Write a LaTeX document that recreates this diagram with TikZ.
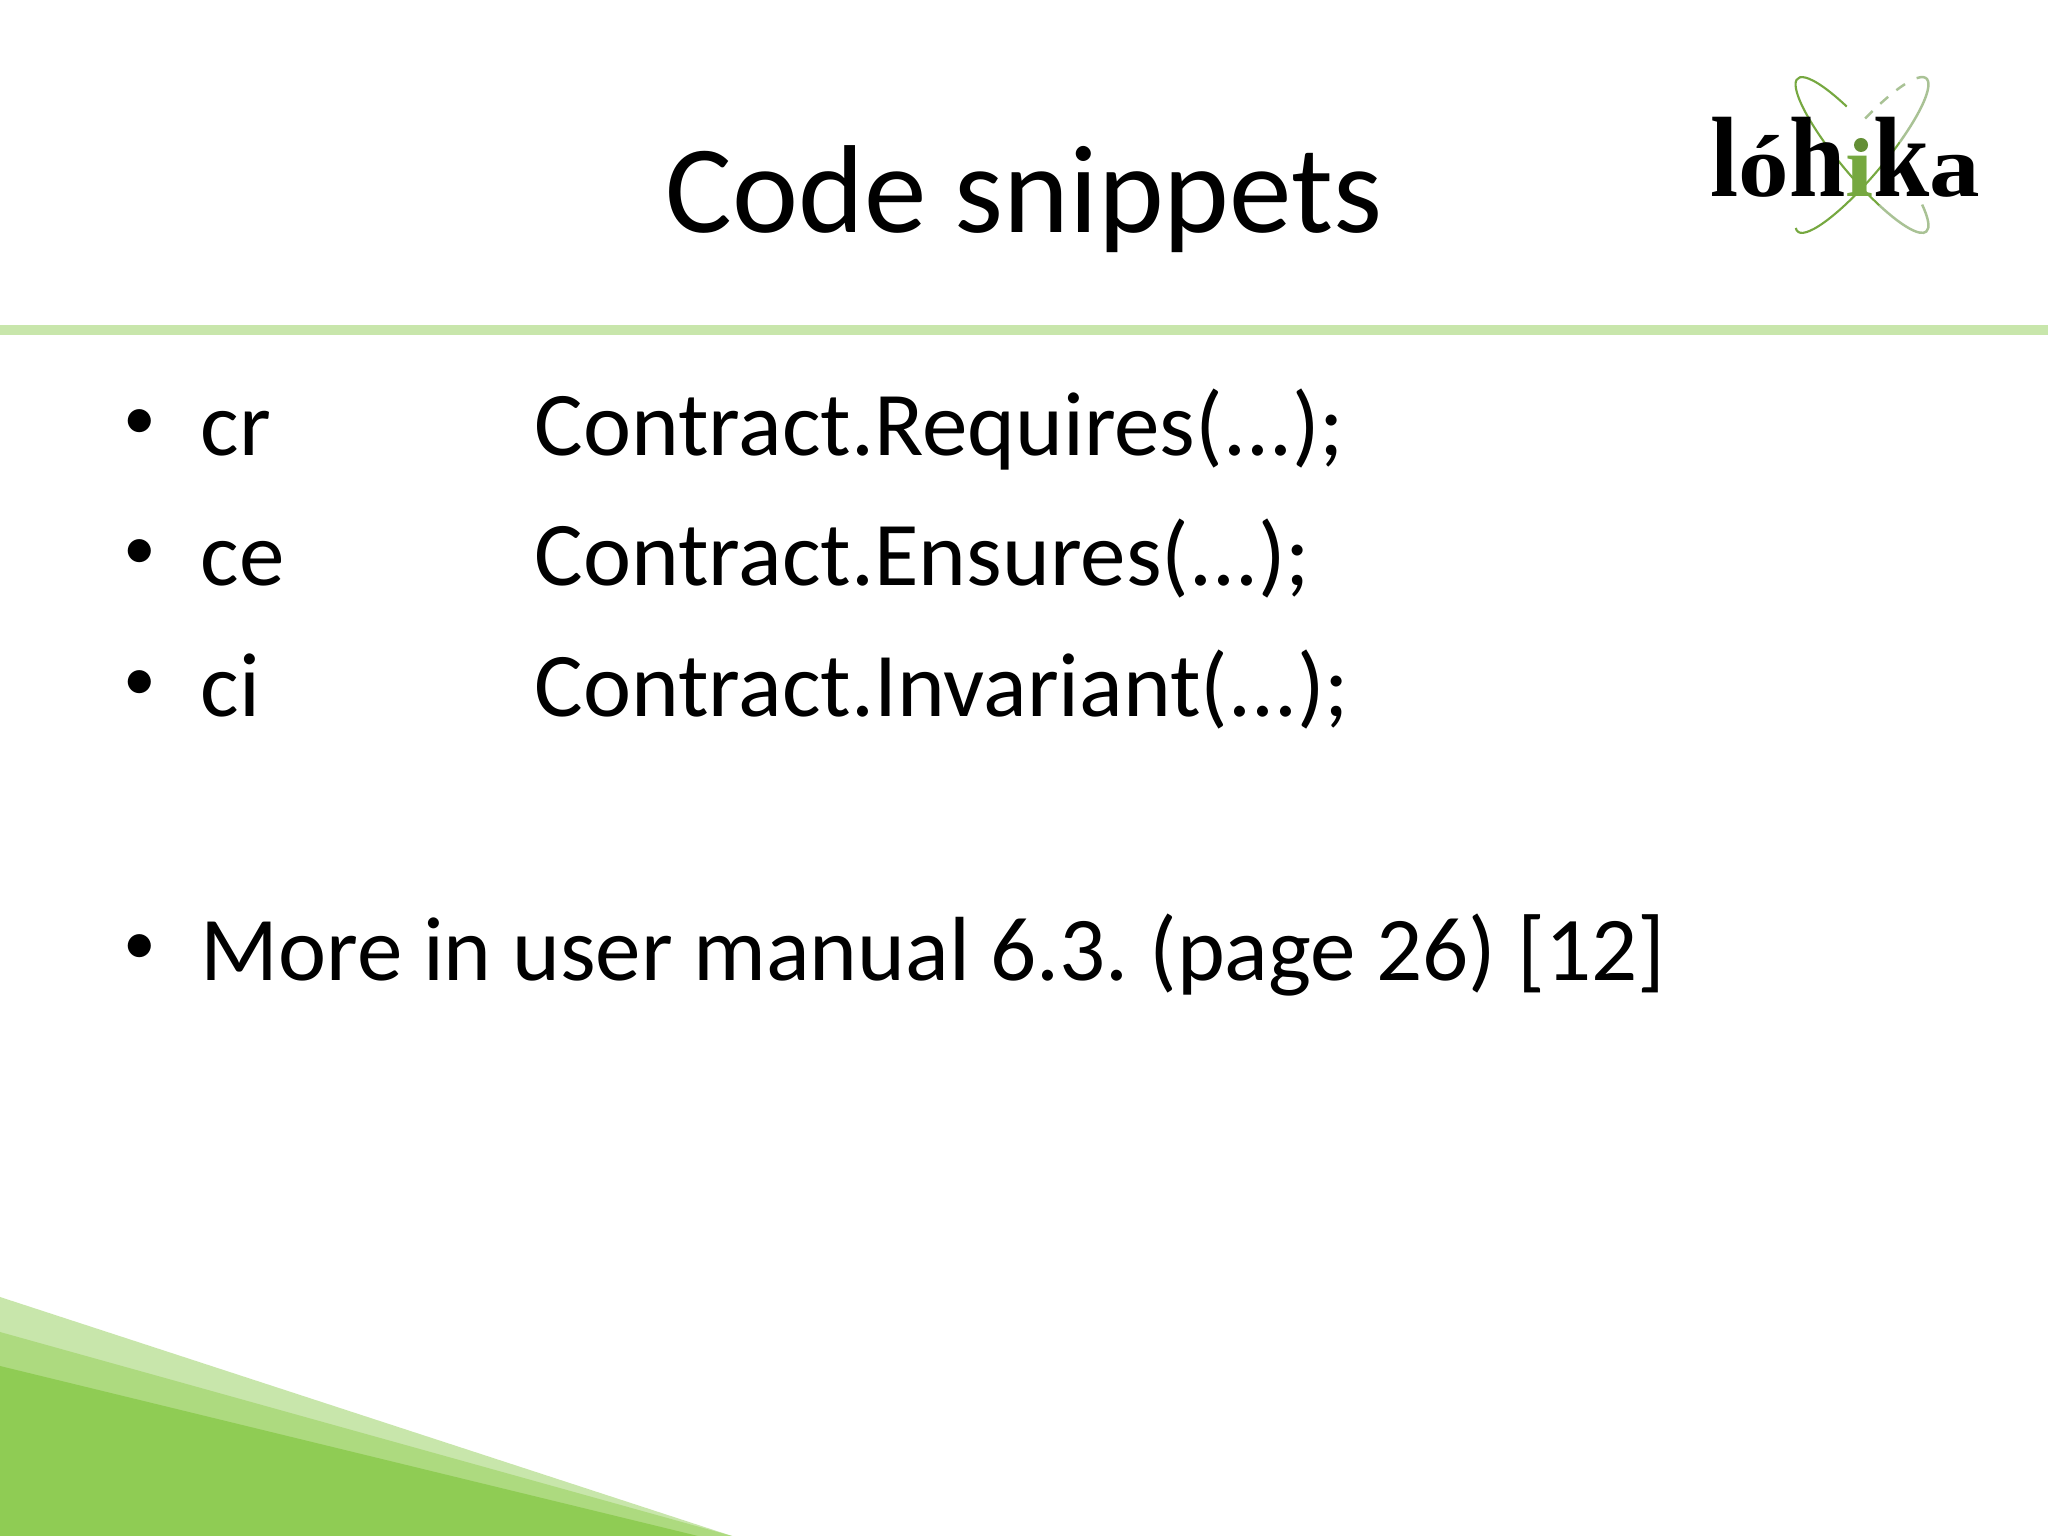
\documentclass[tikz,border=0pt]{standalone}
\usepackage{fontspec}
\usepackage{graphicx}
\setmainfont{Carlito}
\newfontfamily\logofont{Liberation Serif}
\definecolor{lightgreen}{HTML}{C8E6AB}
\definecolor{midgreen}{HTML}{ADDA7F}
\definecolor{darkgreen}{HTML}{8FCC54}
\definecolor{atomgreen}{HTML}{76A840}
\definecolor{atomgrey}{HTML}{A9C295}
\tikzset{
  title/.style={anchor=base,inner sep=0pt,font=\fontsize{35.6pt}{40pt}\selectfont},
  bullet/.style={anchor=base,inner sep=0pt,font=\fontsize{18.6pt}{22pt}\selectfont},
  body/.style={anchor=base west,inner sep=0pt,font=\frenchspacing\fontsize{25.9pt}{30pt}\selectfont},
  atomline/.style={atomgreen,line width=0.6pt},
  atomfade/.style={atomgrey,line width=0.7pt}
}
\begin{document}
\begin{tikzpicture}[x=0.01cm,y=0.01cm]
    \useasboundingbox (0,0) rectangle (2048,1536);
    \fill[white] (0,0) rectangle (2048,1536);

    % corner wedges
    \fill[lightgreen] (0,239) -- (732,0) -- (0,0) -- cycle;
    \fill[midgreen] (0,204) -- (732,0) -- (0,0) -- cycle;
    \fill[darkgreen] (0,170) -- (698,0) -- (0,0) -- cycle;

    % title rule
    \fill[lightgreen] (0,1201) rectangle (2048,1211);

    \node[title] (heading) at (1024,1303) {Code snippets};

    % logo
    \begin{scope}[shift={(1862,1381)},rotate=-50]
        \draw[atomline] (118:100 and 22) arc (118:300:100 and 22);
        \draw[atomfade] (300:100 and 22) arc (300:400:100 and 22);
    \end{scope}
    \begin{scope}[shift={(1862,1381)},rotate=50]
        \draw[atomline] (170:100 and 22) arc (170:290:100 and 22);
        \draw[atomfade] (290:100 and 22) arc (290:380:100 and 22);
        \draw[atomfade,dashed] (35:100 and 22) arc (35:75:100 and 22);
    \end{scope}
    \node[anchor=base west,inner sep=0pt,font=\logofont\bfseries\fontsize{25pt}{30pt}\selectfont] (logo) at (1710,1339)
        {\scalebox{1.15}[1]{\scalebox{1}[1.3]{l}ó\scalebox{1}[1.3]{h}\textcolor{atomgreen}{ı}\scalebox{1}[1.3]{k}a}};
    \fill[atomgreen!85!black] (1861,1391) circle (7);

    % bullets
    \node[bullet] (dotcr) at (140,1096) {•};
    \node[bullet] (dotce) at (140,966) {•};
    \node[bullet] (dotci) at (140,835) {•};
    \node[bullet] (dotmore) at (140,571) {•};

    \node[body] (cr) at (200,1080) {cr};
    \node[body] (ce) at (200,950) {ce};
    \node[body] (ci) at (200,819) {ci};
    \node[body] (more) at (200,555) {More in user manual 6.3. (page 26) [12]};

    \node[body] (requires) at (534,1080) {Contract.Requires(...);};
    \node[body] (ensures) at (534,950) {Contract.Ensures(...);};
    \node[body] (invariant) at (534,819) {Contract.Invariant(...);};
\end{tikzpicture}
\end{document}
